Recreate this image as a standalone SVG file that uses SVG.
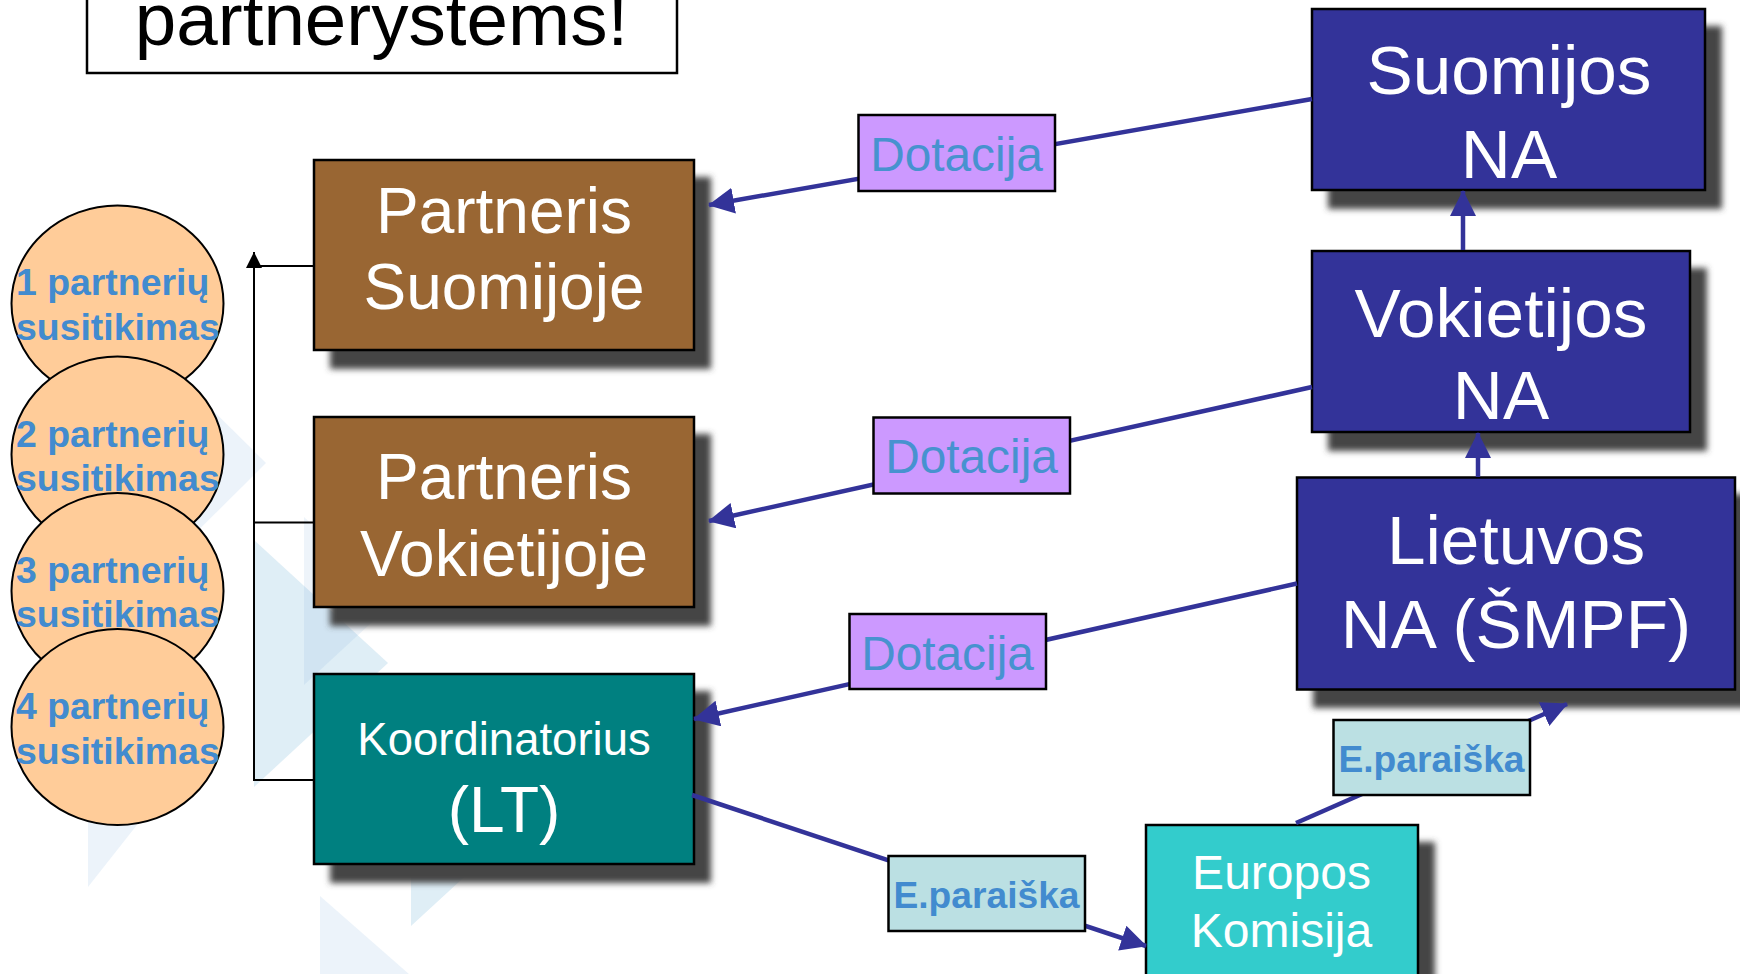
<svg xmlns="http://www.w3.org/2000/svg" width="1740" height="974" viewBox="0 0 1740 974">
<style>
text{font-family:"Liberation Sans",Arial,sans-serif;text-anchor:middle}
.box{stroke:#000;stroke-width:2.5}
.shadow{fill:#444;filter:url(#soft)}
.big{fill:#fff;font-size:64px}
.na{fill:#fff;font-size:69.300px}
.eu{fill:#fff;font-size:48px}
.dot{fill:#4792CF;font-size:47.800px}
.ep{fill:#428BCF;font-size:37.200px;font-weight:bold}
.cir{fill:#FFCC99;stroke:#000;stroke-width:2}
.ct{fill:#428BCF;font-size:37.400px;font-weight:bold;text-anchor:start}
.arr{fill:none;stroke:#333399;stroke-width:4.5;marker-end:url(#ah)}
.el{fill:none;stroke:#000;stroke-width:2}
.t1{fill:#6AA0D8;fill-opacity:.13}
.t2{fill:#DFEEF6}
.t3{fill:#5A96D2;fill-opacity:.1}
</style>
<defs>
<filter id="soft" x="-10%" y="-10%" width="120%" height="120%"><feGaussianBlur stdDeviation="3"/></filter>
<marker id="ah" markerUnits="userSpaceOnUse" markerWidth="27" markerHeight="27" refX="25" refY="13" orient="auto"><path d="M0 0L26 13L0 26Z" fill="#333399"/></marker>
<marker id="bh" markerUnits="userSpaceOnUse" markerWidth="17" markerHeight="17" refX="16" refY="8" orient="auto"><path d="M0 0L16 8L0 16Z" fill="#000"/></marker>
</defs>
<rect width="1740" height="974" fill="#fff"/>
<g id="background">
<polygon class="t1" points="88,287 266,463 88,640"/>
<polygon class="t1" points="88,600 200,745 88,887"/>
<polygon class="t2" points="254,540 388,663 254,787"/>
<polygon class="t3" points="304,517 395,601 304,685"/>
<polygon class="t2" points="411,676 547,801 411,926"/>
<polygon class="t1" points="320,896 450,1010 320,1130"/>
</g>
<g id="title"><rect x="87" y="-60" width="590" height="133" fill="#fff" class="box"/><text x="381.500" y="45" fill="#000" font-size="74.600">partnerystėms!</text></g>
<g id="meet1"><ellipse class="cir" cx="117.500" cy="303.500" rx="106" ry="98"/><text class="ct" x="16" y="295">1 partnerių</text><text class="ct" x="16" y="340">susitikimas</text></g>
<g id="meet2"><ellipse class="cir" cx="117.500" cy="454.500" rx="106" ry="98"/><text class="ct" x="16" y="447">2 partnerių</text><text class="ct" x="16" y="491">susitikimas</text></g>
<g id="meet3"><ellipse class="cir" cx="117.500" cy="591" rx="106" ry="98"/><text class="ct" x="16" y="583">3 partnerių</text><text class="ct" x="16" y="627">susitikimas</text></g>
<g id="meet4"><ellipse class="cir" cx="117.500" cy="727" rx="106" ry="98"/><text class="ct" x="16" y="719">4 partnerių</text><text class="ct" x="16" y="764">susitikimas</text></g>
<g id="partner-fi"><rect class="shadow" x="330" y="177" width="381" height="192"/><rect class="box" x="314" y="160" width="380" height="190" fill="#996633"/><text class="big" x="504" y="232.500">Partneris</text><text class="big" x="504" y="309">Suomijoje</text></g>
<g id="partner-de"><rect class="shadow" x="330" y="434" width="381" height="192"/><rect class="box" x="314" y="417" width="380" height="190" fill="#996633"/><text class="big" x="504" y="498.500">Partneris</text><text class="big" x="504" y="575.500">Vokietijoje</text></g>
<g id="coordinator"><rect class="shadow" x="330" y="691" width="381" height="192"/><rect class="box" x="314" y="674" width="380" height="190" fill="#008080"/><text x="504" y="755" fill="#fff" font-size="45.500">Koordinatorius</text><text class="big" x="504" y="831.500">(LT)</text></g>
<g id="na-fi"><rect class="shadow" x="1328" y="26" width="394" height="183"/><rect class="box" x="1312" y="9" width="393" height="181" fill="#333399"/><text class="na" x="1509" y="94">Suomijos</text><text class="na" x="1509" y="178">NA</text></g>
<g id="na-de"><rect class="shadow" x="1328" y="268" width="379" height="183"/><rect class="box" x="1312" y="251" width="378" height="181" fill="#333399"/><text class="na" x="1501" y="337">Vokietijos</text><text class="na" x="1501" y="419">NA</text></g>
<g id="na-lt"><rect class="shadow" x="1313" y="494" width="438" height="214"/><rect class="box" x="1297" y="477.500" width="438" height="212" fill="#333399"/><text class="na" x="1516" y="564">Lietuvos</text><text class="na" x="1516" y="648">NA (ŠMPF)</text></g>
<g id="ec"><rect class="shadow" x="1162" y="842" width="273" height="170"/><rect class="box" x="1146" y="825" width="272" height="170" fill="#33CCCC"/><text class="eu" x="1281.500" y="889">Europos</text><text class="eu" x="1281.500" y="947">Komisija</text></g>
<g id="connectors">
<path class="el" d="M314 266H254"/>
<path class="el" d="M314 522.500H254"/>
<path class="el" d="M314 780H254V252" marker-end="url(#bh)"/>
<line class="arr" x1="1312" y1="99" x2="709" y2="205"/>
<line class="arr" x1="1312" y1="387" x2="709" y2="521"/>
<line class="arr" x1="1297" y1="583.500" x2="694" y2="719"/>
<line class="arr" x1="1463" y1="250" x2="1463" y2="191"/>
<line class="arr" x1="1478" y1="477" x2="1478" y2="433"/>
<line class="arr" x1="692" y1="795" x2="1146" y2="946"/>
<line class="arr" x1="1296" y1="823" x2="1567" y2="704"/>
</g>
<g id="grant-fi"><rect class="box" x="858.500" y="115" width="196.500" height="76" fill="#CC99FF"/><text class="dot" x="956.500" y="171">Dotacija</text></g>
<g id="grant-de"><rect class="box" x="873.500" y="417.500" width="196.500" height="76" fill="#CC99FF"/><text class="dot" x="971.500" y="473">Dotacija</text></g>
<g id="grant-lt"><rect class="box" x="849.500" y="614" width="196.500" height="75" fill="#CC99FF"/><text class="dot" x="947.500" y="669.500">Dotacija</text></g>
<g id="app-upper"><rect class="box" x="1333.500" y="720" width="196.500" height="75" fill="#BBE0E3"/><text class="ep" x="1431.500" y="771.500">E.paraiška</text></g>
<g id="app-lower"><rect class="box" x="888.500" y="856" width="196.500" height="75" fill="#BBE0E3"/><text class="ep" x="986.500" y="908">E.paraiška</text></g>
</svg>
